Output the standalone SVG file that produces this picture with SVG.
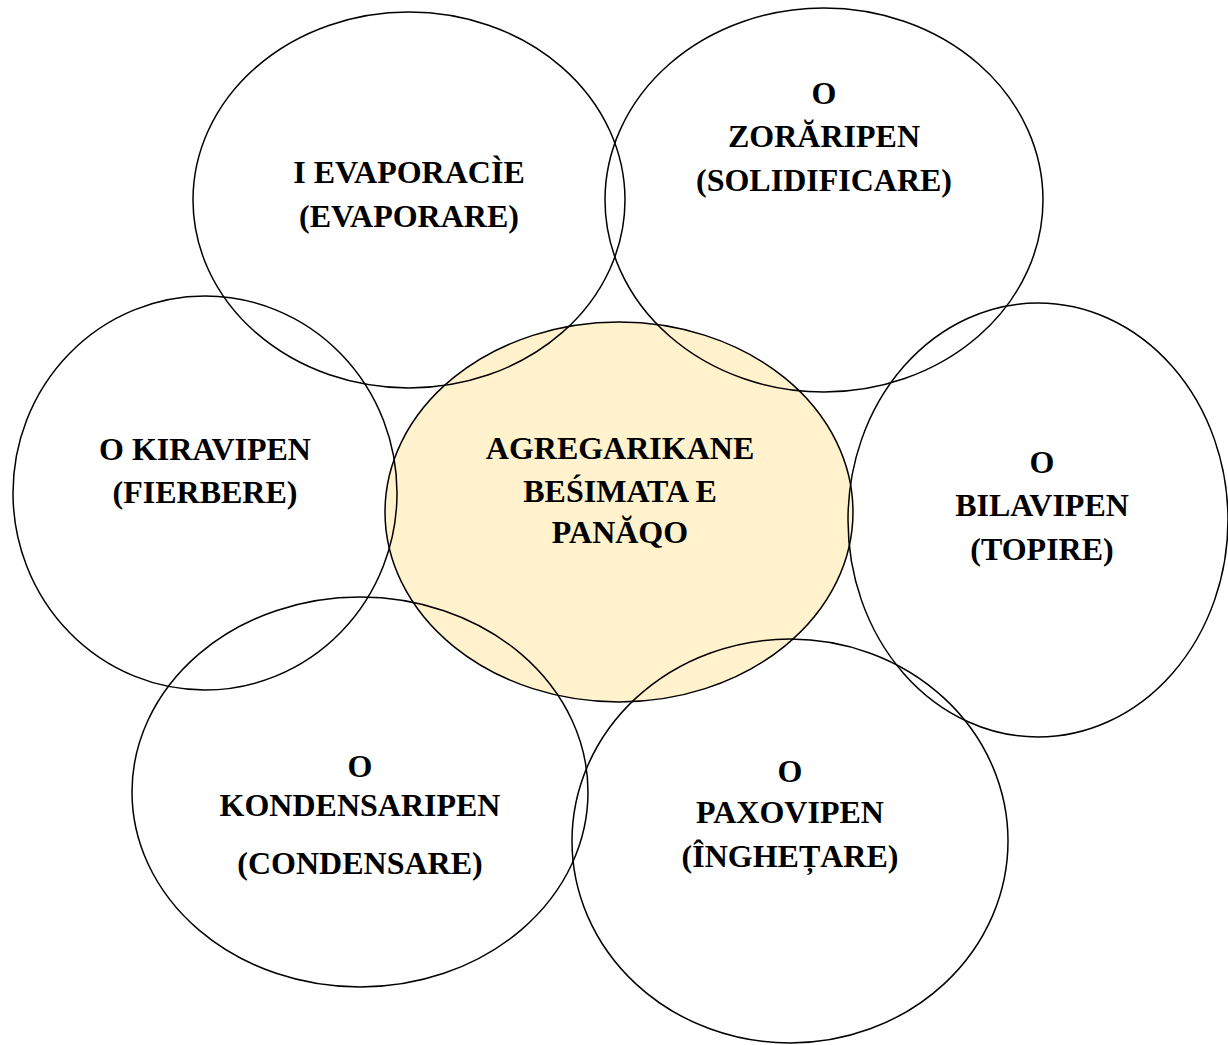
<svg xmlns="http://www.w3.org/2000/svg" width="1228" height="1045" viewBox="0 0 1228 1045">
<style>
.n{fill:none;stroke:#000;stroke-width:1.5}
.c{fill:#FFF2CC;stroke:#000;stroke-width:1.5}
text{font-family:"Liberation Serif","Times New Roman",serif;font-weight:bold;font-size:32px;text-anchor:middle;fill:#000}
</style>
<rect width="1228" height="1045" fill="#fff"/>
<g id="center"><ellipse class="c" cx="619" cy="512" rx="234" ry="190"/>
<text x="620" y="459">AGREGARIKANE</text><text x="620" y="502">BEŚIMATA E</text><text x="620" y="543">PANĂQO</text></g>
<g id="evaporare"><ellipse class="n" cx="409" cy="200" rx="216" ry="188"/>
<text x="409" y="183">I EVAPORACÌE</text><text x="409" y="227">(EVAPORARE)</text></g>
<g id="solidificare"><ellipse class="n" cx="824" cy="200" rx="219" ry="192"/>
<text x="824" y="104">O</text><text x="824" y="147">ZORĂRIPEN</text><text x="824" y="191">(SOLIDIFICARE)</text></g>
<g id="fierbere"><ellipse class="n" cx="205" cy="493" rx="192" ry="197"/>
<text x="205" y="460">O KIRAVIPEN</text><text x="205" y="503">(FIERBERE)</text></g>
<g id="topire"><ellipse class="n" cx="1038" cy="520" rx="190" ry="217"/>
<text x="1042" y="473">O</text><text x="1042" y="516">BILAVIPEN</text><text x="1042" y="560">(TOPIRE)</text></g>
<g id="condensare"><ellipse class="n" cx="360" cy="792" rx="228" ry="195"/>
<text x="360" y="777">O</text><text x="360" y="816">KONDENSARIPEN</text><text x="360" y="874">(CONDENSARE)</text></g>
<g id="inghetare"><ellipse class="n" cx="790" cy="841" rx="218" ry="202"/>
<text x="790" y="782">O</text><text x="790" y="823">PAXOVIPEN</text><text x="790" y="867">(ÎNGHEȚARE)</text></g>
<g id="connectors"/>
</svg>
